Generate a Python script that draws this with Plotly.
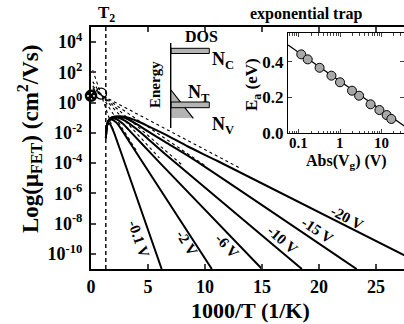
import math
import plotly.graph_objects as go

# ---- main panel: mobility vs inverse temperature (log10 of mu_FET) ----
gate_labels = ["-0.1 V", "-2 V", "-6 V", "-10 V", "-15 V", "-20 V"]

solid_x = [
    [1.31, 1.34, 1.42, 1.55, 1.7, 2.0, 2.5, 6.2],
    [1.31, 1.34, 1.42, 1.55, 1.8, 2.2, 2.7, 3.5, 10.6],
    [1.31, 1.34, 1.42, 1.55, 1.8, 2.2, 2.8, 3.5, 4.5, 6.0, 15.0],
    [1.31, 1.34, 1.42, 1.55, 1.8, 2.3, 3.0, 4.0, 5.0, 6.5, 18.5],
    [1.31, 1.34, 1.42, 1.55, 1.8, 2.4, 3.0, 4.0, 5.0, 6.5, 9.0, 23.3],
    [1.31, 1.34, 1.42, 1.55, 1.8, 2.5, 3.2, 4.0, 5.0, 6.5, 8.5, 11.1, 27.5],
]
solid_logmu = [
    [-2.35, -1.85, -1.5, -1.35, -1.45, -1.95, -3.0, -11.0],
    [-2.35, -1.85, -1.45, -1.22, -1.12, -1.3, -1.8, -2.75, -11.0],
    [-2.35, -1.85, -1.45, -1.2, -1.05, -1.08, -1.4, -1.95, -2.75, -3.95, -11.0],
    [-2.35, -1.85, -1.45, -1.18, -1.02, -0.98, -1.2, -1.75, -2.4, -3.4, -11.0],
    [-2.35, -1.85, -1.45, -1.17, -1.0, -0.93, -1.02, -1.42, -1.9, -2.6, -3.75, -11.0],
    [-2.35, -1.85, -1.45, -1.16, -0.98, -0.9, -0.98, -1.2, -1.55, -2.1, -2.9, -3.86, -10.1],
]

# Arrhenius extrapolations (dotted), through the Meyer-Neldel point
dotted_x = [
    [0.15, 0.9, 2.4],
    [0.15, 0.9, 4.0],
    [0.15, 0.9, 6.0],
    [0.15, 0.9, 8.0],
    [0.15, 0.9, 10.0],
    [0.15, 0.9, 13.0],
]
dotted_logmu = [
    [2.14, 0.5, -2.79],
    [1.39, 0.5, -3.19],
    [1.11, 0.5, -3.66],
    [0.99, 0.5, -4.13],
    [0.88, 0.5, -4.16],
    [0.80, 0.5, -4.30],
]

t2_x = 1.3
mn_point = (0.88, 0.6)
origin_point = (0.0, 0.45)

label_x = [4.2, 8.4, 11.95, 16.8, 19.8, 22.5]
label_y = [-9.0, -9.3, -9.45, -9.1, -8.45, -7.6]
label_angle = [71, 58, 47, 41, 34, 28]

y_tick_exp = [4, 2, 0, -2, -4, -6, -8, -10]
x_tick_vals = [0, 5, 10, 15, 20, 25]

# ---- inset: activation energy vs |Vg| ----
vg_abs = [0.115, 0.165, 0.32, 0.62, 1.0, 1.95, 2.9, 5.5, 9.0, 13.5, 17.5]
ea_ev = [0.441, 0.413, 0.366, 0.322, 0.285, 0.238, 0.210, 0.162, 0.130, 0.102, 0.080]
fit_vg = [0.055, 36.0]
fit_ea = [0.493, 0.041]
inset_x_ticks = [0.1, 1, 10]
inset_x_ticktext = ["0.1", "1", "10"]

SERIF = "Liberation Serif, Times New Roman, serif"
W, H = 404, 324
L, R, T, B = 91, 0, 27, 55


def px(xp):
    return (xp - L) / (W - L - R)


def py(yp):
    return (H - B - yp) / (H - T - B)


fig = go.Figure()

for xs, ys in zip(dotted_x, dotted_logmu):
    fig.add_trace(go.Scatter(x=xs, y=ys, mode="lines",
                             line=dict(color="black", width=1.1, dash="dot"),
                             showlegend=False, hoverinfo="skip"))

for xs, ys in zip(solid_x, solid_logmu):
    fig.add_trace(go.Scatter(x=xs, y=ys, mode="lines",
                             line=dict(color="black", width=2, shape="spline", smoothing=0.6),
                             showlegend=False, hoverinfo="skip"))

fig.add_trace(go.Scatter(x=[mn_point[0]], y=[mn_point[1]], mode="markers",
                         marker=dict(symbol="circle-open", size=11, color="black",
                                     line=dict(color="black", width=1.3)),
                         cliponaxis=False, showlegend=False, hoverinfo="skip"))
fig.add_trace(go.Scatter(x=[origin_point[0]], y=[origin_point[1]], mode="markers",
                         marker=dict(symbol="circle-x", size=10, color="white",
                                     line=dict(color="black", width=2.5)),
                         cliponaxis=False, showlegend=False, hoverinfo="skip"))

# inset data
fig.add_trace(go.Scatter(x=fit_vg, y=fit_ea, mode="lines", xaxis="x2", yaxis="y2",
                         line=dict(color="black", width=1.3),
                         showlegend=False, hoverinfo="skip"))
fig.add_trace(go.Scatter(x=vg_abs, y=ea_ev, mode="markers", xaxis="x2", yaxis="y2",
                         marker=dict(symbol="circle", size=9, color="#a8a8a8",
                                     line=dict(color="black", width=1)),
                         cliponaxis=False, showlegend=False, hoverinfo="skip"))

# T2 marker line
fig.add_shape(type="line", xref="x", yref="paper", x0=t2_x, x1=t2_x, y0=0, y1=1,
              line=dict(color="black", width=1.4, dash="4px,3px"))

tickfont = dict(family=SERIF, size=18, color="black", weight="bold")
inset_tickfont = dict(family=SERIF, size=17, color="black", weight="bold")

fig.update_layout(
    width=W, height=H,
    margin=dict(l=L, r=R, t=T, b=B, pad=0),
    paper_bgcolor="white", plot_bgcolor="white",
    font=dict(family=SERIF, color="black", weight="bold"),
    xaxis=dict(range=[0, 27.46], tickvals=x_tick_vals, ticks="inside", ticklen=5,
               tickwidth=1.5, showline=True, linewidth=2, linecolor="black",
               mirror="ticks", showgrid=False, zeroline=False, tickfont=tickfont),
    yaxis=dict(range=[-11, 5], tickvals=y_tick_exp,
               ticktext=[f"10<sup>{e}</sup>" for e in y_tick_exp],
               ticks="inside", ticklen=5, tickwidth=1.5, showline=True, linewidth=2,
               linecolor="black", mirror=False, showgrid=False, zeroline=False,
               tickfont=tickfont, ticklabelstandoff=3),
    xaxis2=dict(type="log", domain=[px(288), 1.0], anchor="y2",
                range=[-1.26, 1.55], tickvals=inset_x_ticks, showticklabels=False,
                ticks="inside", ticklen=4, tickwidth=1.2, showline=True, linewidth=1.4,
                linecolor="black", mirror="ticks", showgrid=False, zeroline=False,
                minor=dict(ticks="inside", ticklen=2.5, tickwidth=1,
                           tickvals=[0.06, 0.07, 0.08, 0.09, 0.2, 0.3, 0.4, 0.5, 0.6,
                                     0.7, 0.8, 0.9, 2, 3, 4, 5, 6, 7, 8, 9, 20, 30])),
    yaxis2=dict(domain=[py(133.3), py(33)], anchor="x2", range=[0, 0.5603],
                tickvals=[0.0, 0.2, 0.4], ticktext=["0.0", "0.2", "0.4"],
                ticks="inside", ticklen=4, tickwidth=1.2, showline=True, linewidth=1.4,
                linecolor="black", mirror="ticks", showgrid=False, zeroline=False,
                tickfont=inset_tickfont, ticklabelstandoff=0),
)

ann = []


def text(x, y, s, size, angle=0, xref="paper", yref="paper", xanchor="center"):
    ann.append(dict(x=x, y=y, xref=xref, yref=yref, text=s, showarrow=False,
                    textangle=angle, xanchor=xanchor, yanchor="middle",
                    font=dict(family=SERIF, size=size, color="black", weight="bold")))


# axis titles and headings
text(px(250), py(310), "1000/T (1/K)", 22)
text(px(29), py(139), "Log(\u03bc<sub>FET</sub>) (cm<sup>2</sup>/Vs)", 23, angle=-90)
text(px(106), py(14), "T<sub>2</sub>", 17)
text(px(306), py(14), "exponential trap", 16)

# gate-voltage labels along the curves
for lx, ly, la, lt in zip(label_x, label_y, label_angle, gate_labels):
    text(lx, ly, lt, 15, angle=la, xref="x", yref="y")

# inset tick labels on the |Vg| axis (annotation x on a log axis is in decades)
for tv, tt in zip(inset_x_ticks, inset_x_ticktext):
    text(math.log10(tv), py(143), tt, 15, xref="x2")

# inset axis titles
text(px(253), py(84), "E<sub>a</sub> (eV)", 17, angle=-90)
text(px(346), py(161.5), "Abs(V<sub>g</sub>) (V)", 16)

# density-of-states sketch
gray = "#b4b4b4"
fig.add_shape(type="path", xref="paper", yref="paper",
              path=f"M {px(171)},{py(90)} L {px(171)},{py(118)} L {px(193.3)},{py(118)} Z",
              fillcolor=gray, line=dict(width=0))
fig.add_shape(type="line", xref="paper", yref="paper",
              x0=px(171), y0=py(90), x1=px(193.3), y1=py(118.3),
              line=dict(color="black", width=1.2))
for ytop, ybot in [(48.3, 53.5), (102, 107.7)]:
    fig.add_shape(type="rect", xref="paper", yref="paper",
                  x0=px(171), x1=px(209.3), y0=py(ybot), y1=py(ytop),
                  fillcolor=gray, line=dict(color="black", width=1))
fig.add_shape(type="line", xref="paper", yref="paper",
              x0=px(170.7), x1=px(170.7), y0=py(128), y1=py(43),
              line=dict(color="black", width=1.4))

text(px(201), py(37), "DOS", 16)
text(px(155), py(85), "Energy", 15, angle=-90)
text(px(223), py(61), "N<sub>C</sub>", 18)
text(px(199), py(94), "N<sub>T</sub>", 18)
text(px(223), py(126), "N<sub>V</sub>", 18)

fig.update_layout(annotations=ann)
fig.write_html("out.html")
